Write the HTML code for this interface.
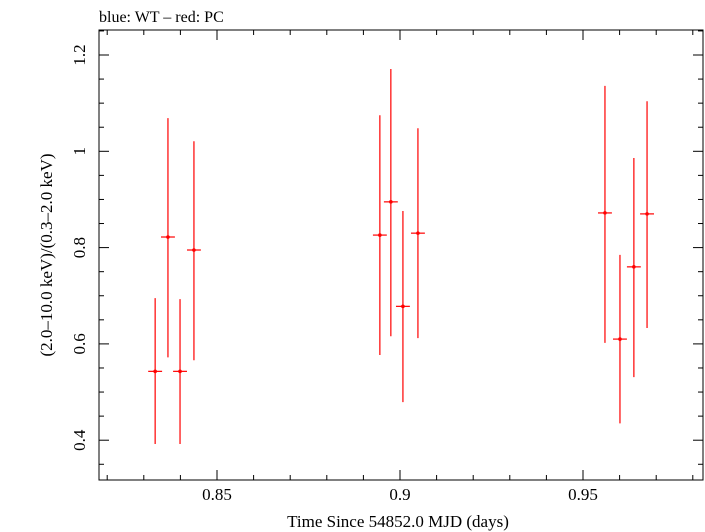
<!DOCTYPE html>
<html><head><meta charset="utf-8"><style>
html,body{margin:0;padding:0;background:#fff;}
svg{display:block;font-family:"Liberation Serif",serif;}
</style></head><body>
<svg id="chart" width="705" height="532" viewBox="0 0 705 532">
<text x="99" y="22" font-size="16">blue: WT – red: PC</text>
<rect x="99" y="30" width="604" height="450" fill="none" stroke="#000" stroke-width="1"/>
<g id="ticks"></g>
<g id="marks"></g>
<text x="398" y="527" font-size="17" text-anchor="middle">Time Since 54852.0 MJD (days)</text>
<text transform="translate(52,255) rotate(-90)" font-size="17" text-anchor="middle">(2.0–10.0 keV)/(0.3–2.0 keV)</text>
</svg>
<script>
const times=[0.8331,0.8366,0.8399,0.8437,0.8945,0.8975,0.9008,0.9049,0.9560,0.9601,0.9639,0.9675];
const timeErr=[0.0019,0.0019,0.0019,0.0019,0.0019,0.0019,0.0019,0.0019,0.0019,0.0019,0.0019,0.0019];
const ratios=[0.543,0.822,0.543,0.795,0.826,0.895,0.678,0.830,0.872,0.610,0.760,0.870];
const ratioHi=[0.695,1.069,0.693,1.021,1.075,1.171,0.876,1.048,1.136,0.785,0.986,1.104];
const ratioLo=[0.392,0.572,0.392,0.566,0.577,0.616,0.479,0.612,0.602,0.435,0.531,0.633];
const xTicks=[0.85,0.9,0.95];
const xTickLabels=["0.85","0.9","0.95"];
const yTicks=[0.4,0.6,0.8,1.0,1.2];
const yTickLabels=["0.4","0.6","0.8","1","1.2"];
const X0=99,X1=703,Y0=480,Y1=30;
function sx(t){return 217+(t-0.85)*3660;}
function sy(v){return 55+(1.2-v)*481.5;}
const NS="http://www.w3.org/2000/svg";
function mk(tag,attrs,parent){const e=document.createElementNS(NS,tag);for(const k in attrs)e.setAttribute(k,attrs[k]);parent.appendChild(e);return e;}
const tg=document.getElementById('ticks');
for(let i=0;i<=20;i++){const t=0.82+i*0.01;const x=sx(t);if(x<X0||x>X1)continue;
 const major=xTicks.some(v=>Math.abs(v-t)<1e-6);const L=major?10:5;
 const a=mk('line',{x1:x,y1:Y0,x2:x,y2:Y0-L,stroke:'#000'},tg);
 
 
 const b=mk('line',{x1:x,y1:Y1,x2:x,y2:Y1+L,stroke:'#000'},tg);
 
 }
for(let i=0;i<xTicks.length;i++){const t=mk('text',{x:sx(xTicks[i]),y:500,'font-size':17,'text-anchor':'middle'},tg);t.textContent=xTickLabels[i];
 
 }
for(let i=0;i<=20;i++){const v=0.3+i*0.05;const y=sy(v);if(y<Y1||y>Y0)continue;
 const major=yTicks.some(u=>Math.abs(u-v)<1e-6);const L=major?10:5;
 const a=mk('line',{x1:X0,y1:y,x2:X0+L,y2:y,stroke:'#000'},tg);
 
 
 const b=mk('line',{x1:X1,y1:y,x2:X1-L,y2:y,stroke:'#000'},tg);
 
 }
for(let i=0;i<yTicks.length;i++){const y=sy(yTicks[i]);const t=mk('text',{x:0,y:0,'font-size':17,'text-anchor':'middle',transform:`translate(85,${y}) rotate(-90)`},tg);t.textContent=yTickLabels[i];
 
 }
const mg=document.getElementById('marks');
for(let i=0;i<times.length;i++){
 const g=mk('g',{},mg);
 
 
 const x=sx(times[i]),y=sy(ratios[i]);
 mk('line',{x1:x,y1:sy(ratioHi[i]),x2:x,y2:sy(ratioLo[i]),stroke:'#f00','stroke-width':1.2},g);
 mk('line',{x1:sx(times[i]-timeErr[i]),y1:y,x2:sx(times[i]+timeErr[i]),y2:y,stroke:'#f00','stroke-width':1.2},g);
 mk('circle',{cx:x,cy:y,r:1.8,fill:'#f00'},g);
}
</script>
</body></html>
